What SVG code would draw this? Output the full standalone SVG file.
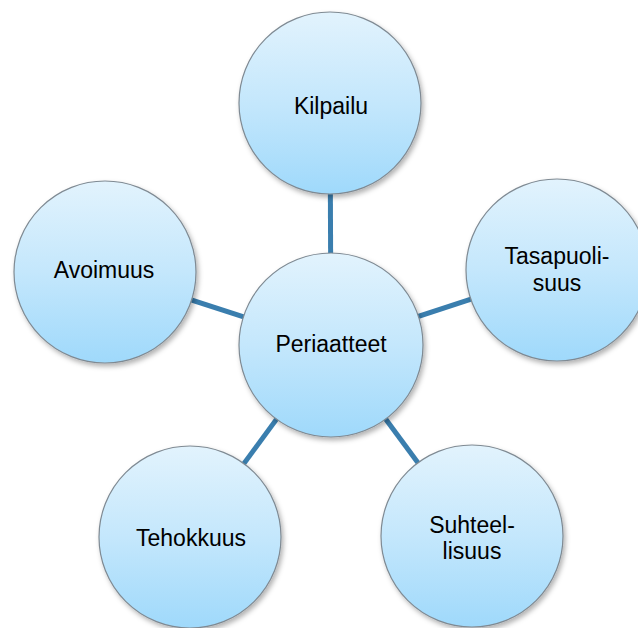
<svg xmlns="http://www.w3.org/2000/svg" width="638" height="628" viewBox="0 0 638 628">
  <defs>
    <linearGradient id="bubble" x1="0" y1="0" x2="0" y2="1">
      <stop offset="0" stop-color="#e2f3fd"/>
      <stop offset="0.5" stop-color="#c4e7fc"/>
      <stop offset="1" stop-color="#9fd9fb"/>
    </linearGradient>
    <filter id="shade" x="-20%" y="-20%" width="140%" height="140%">
      <feDropShadow dx="2" dy="3" stdDeviation="2.5" flood-color="#000" flood-opacity="0.3"/>
    </filter>
  </defs>
  <style>
    .node circle { fill: url(#bubble); stroke: #7f8a93; stroke-width: 1.2; filter: url(#shade); }
    .node text { font-family: "Liberation Sans", Arial, sans-serif; font-size: 23px; fill: #000; text-anchor: middle; }
    .links line { stroke: #3a7eae; stroke-width: 5; }
  </style>
  <rect width="638" height="628" fill="#fff"/>

  <!-- spokes from the hub to each principle -->
  <g id="connectors" class="links">
    <line x1="331" y1="345" x2="330" y2="103"/>
    <line x1="331" y1="345" x2="557" y2="271"/>
    <line x1="331" y1="345" x2="472" y2="536"/>
    <line x1="331" y1="345" x2="190" y2="537"/>
    <line x1="331" y1="345" x2="105" y2="272"/>
  </g>

  <g id="kilpailu" class="node">
    <circle cx="330" cy="103" r="91"/>
    <text x="331" y="114">Kilpailu</text>
  </g>

  <g id="tasapuolisuus" class="node">
    <circle cx="557" cy="270" r="91"/>
    <text x="557" y="264">Tasapuoli-</text>
    <text x="557" y="291">suus</text>
  </g>

  <g id="suhteellisuus" class="node">
    <circle cx="472" cy="536" r="91"/>
    <text x="472" y="533">Suhteel-</text>
    <text x="472" y="559">lisuus</text>
  </g>

  <g id="tehokkuus" class="node">
    <circle cx="190" cy="537" r="91"/>
    <text x="191" y="546">Tehokkuus</text>
  </g>

  <g id="avoimuus" class="node">
    <circle cx="105" cy="272" r="91"/>
    <text x="104" y="278">Avoimuus</text>
  </g>

  <g id="periaatteet" class="node">
    <circle cx="331" cy="345" r="92"/>
    <text x="331" y="352">Periaatteet</text>
  </g>
</svg>
